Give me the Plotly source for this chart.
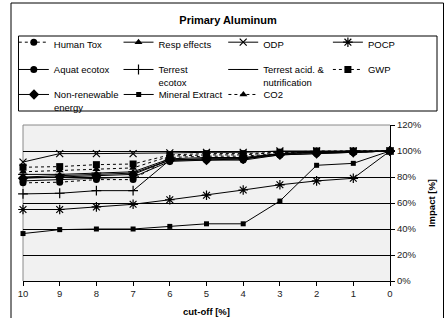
import plotly.graph_objects as go

cutoff = [10, 9, 8, 7, 6, 5, 4, 3, 2, 1, 0]
impact_ticks = [0, 20, 40, 60, 80, 100, 120]

human_tox = [75.5, 76, 78, 78, 95, 96, 96, 98, 99, 99, 100]
resp_effects = [80, 81, 82, 83, 93, 94, 94, 98, 99, 99, 100]
odp = [91.5, 98, 98, 98, 98.5, 99, 99, 100, 100, 100, 100]
pocp = [55, 55, 57, 59, 62.5, 66, 70, 74, 77, 79, 100]
aquat_ecotox = [77, 78, 79, 80, 92, 93, 93, 97, 98, 99, 100]
terrest_ecotox = [67, 67.5, 69.5, 69.5, 93, 94, 94, 98, 99, 99, 100]
terrest_acid = [82, 82, 83, 84, 94, 95, 95, 98, 99, 100, 100]
gwp = [87.5, 88, 89.5, 90, 97, 98, 98, 99, 100, 100, 100]
non_renewable = [79, 80, 81, 82, 93, 93, 94, 97, 98, 99, 100]
mineral_extract = [36.5, 39.5, 40, 40, 42, 44, 44, 61.5, 89, 90.5, 100]
co2 = [84, 85, 86, 87, 96, 97, 97, 99, 99, 100, 100]

NB = "\u00a0"
# (legend label, values, dash, marker symbol, marker size, legend row)
series = [
    ("Human Tox", human_tox, "dot", "circle", 7, "legend"),
    ("Resp effects", resp_effects, "solid", "triangle-up", 7, "legend"),
    ("ODP", odp, "solid", "x-thin", 7, "legend"),
    ("POCP", pocp, "solid", "asterisk", 8, "legend"),
    ("Aquat ecotox<br>" + NB, aquat_ecotox, "solid", "circle", 7, "legend2"),
    ("Terrest<br>ecotox", terrest_ecotox, "solid", "cross-thin", 7, "legend2"),
    ("Terrest acid. &<br>nutrification", terrest_acid, "solid", "line-ew", 7, "legend2"),
    ("GWP<br>" + NB, gwp, "dot", "square", 7, "legend2"),
    ("Non-renewable<br>energy", non_renewable, "solid", "diamond", 8, "legend3"),
    ("Mineral Extract<br>" + NB, mineral_extract, "solid", "square", 5, "legend3"),
    ("CO2<br>" + NB, co2, "dot", "triangle-up", 7, "legend3"),
]

FONT = "Liberation Sans, Arial, sans-serif"

fig = go.Figure()
for name, vals, dash, sym, size, leg in series:
    thin = sym in ("x-thin", "cross-thin", "asterisk", "line-ew")
    fig.add_trace(go.Scatter(
        x=cutoff, y=vals, name=name, mode="lines+markers", legend=leg,
        line=dict(color="black", width=1, dash=dash),
        marker=dict(symbol=sym, size=size, color="black",
                    line=dict(color="black", width=1.2 if thin else 0)),
        cliponaxis=False,
    ))

# plot area geometry (px): left 23, right 390, top 125, bottom 281
W, H = 447, 318
L, R, T, B = 23, 390, 125, 281
pw, ph = R - L, B - T

def px_x(p):
    return (p - L) / pw

def px_y(p):
    return (B - p) / ph

ENTRY_W = 59.7
ITEM_LEFT = 14  # px, left of first legend item
ROW_W = 4 * (40 + ENTRY_W + 5)

leg_common = dict(
    orientation="h", borderwidth=0, bgcolor="rgba(0,0,0,0)",
    entrywidth=ENTRY_W, entrywidthmode="pixels", valign="top",
    font=dict(size=9.5, family=FONT, color="black"), traceorder="normal",
    yanchor="top",
)

fig.update_layout(
    width=W, height=H,
    margin=dict(l=L, r=W - R, t=T, b=H - B, autoexpand=False),
    paper_bgcolor="white",
    plot_bgcolor="#f1f1f1",
    font=dict(family=FONT, size=10, color="black"),
    title=dict(text="<b>Primary Aluminum</b>", x=228 / W, xanchor="center",
               y=1 - 20 / H, yanchor="middle", xref="container", yref="container",
               font=dict(size=11, family=FONT, color="black")),
    showlegend=True,
    legend=dict(leg_common, x=px_x(ITEM_LEFT + ROW_W), xanchor="right", y=px_y(29.5)),
    legend2=dict(leg_common, x=px_x(ITEM_LEFT + ROW_W), xanchor="right", y=px_y(56.8)),
    legend3=dict(leg_common, x=px_x(ITEM_LEFT), xanchor="left", y=px_y(81.8)),
    xaxis=dict(
        range=[10, 0], tickvals=cutoff, ticktext=[str(v) for v in cutoff],
        showgrid=False, zeroline=False, showline=True, linecolor="black", linewidth=1,
        ticks="outside", ticklen=4, tickcolor="black",
        tickfont=dict(size=9.5, family=FONT, color="#222"),
        title=dict(text="<b>cut-off [%]</b>", standoff=9, font=dict(size=9.5, family=FONT)),
    ),
    yaxis=dict(
        range=[0, 120], tickvals=impact_ticks, ticktext=[f"{v}%" for v in impact_ticks],
        side="right", showgrid=True, gridcolor="black", gridwidth=1, zeroline=False,
        showline=True, linecolor="black", linewidth=1,
        ticks="outside", ticklen=4, tickcolor="black",
        tickfont=dict(size=9.5, family=FONT, color="#222"),
        title=dict(text="<b>Impact [%]</b>", standoff=7, font=dict(size=9.5, family=FONT)),
    ),
    shapes=[
        dict(type="line", xref="paper", yref="paper", x0=0, x1=1, y0=1, y1=1,
             line=dict(color="#8a8a8a", width=1), layer="between"),
        dict(type="line", xref="paper", yref="paper", x0=0, x1=0, y0=0, y1=1,
             line=dict(color="#8a8a8a", width=1), layer="between"),
        # legend box
        dict(type="rect", xref="paper", yref="paper",
             x0=px_x(18.5), x1=px_x(437), y0=px_y(111), y1=px_y(36),
             line=dict(color="black", width=1), fillcolor="rgba(0,0,0,0)", layer="above"),
        # outer chart frame
        dict(type="rect", xref="paper", yref="paper",
             x0=px_x(11), x1=px_x(443.5), y0=px_y(325), y1=px_y(3),
             line=dict(color="black", width=1), fillcolor="rgba(0,0,0,0)", layer="above"),
    ],
)

fig.write_html("out.html", config={"displayModeBar": False},
               post_script="document.body.style.margin='0';document.body.style.padding='0';")
